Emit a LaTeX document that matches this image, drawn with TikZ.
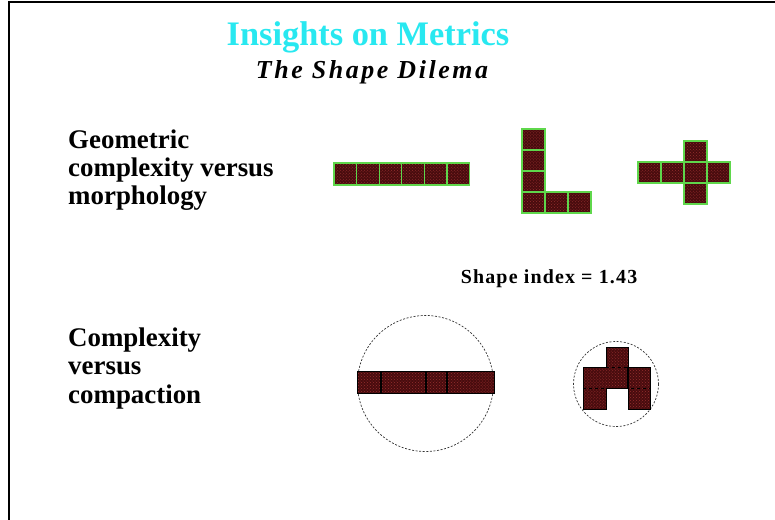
\documentclass[tikz,border=0pt]{standalone}
\usepackage{fontspec}
\setmainfont{Liberation Serif}
\usepackage{tikz}
\usetikzlibrary{patterns}
\definecolor{titlecyan}{RGB}{40,232,240}
\definecolor{cellred}{RGB}{72,12,14}
\definecolor{celldot}{RGB}{150,45,45}
\definecolor{cellgreen}{RGB}{95,215,75}
\tikzset{
  heading/.style  = {font=\fontsize{27}{28.5}\selectfont\bfseries, align=left, inner sep=0pt, anchor=base west},
  cell/.style     = {preaction={fill=cellred}, pattern=crosshatch dots, pattern color=celldot, draw=cellgreen, line width=1.3pt},
  darkcell/.style = {preaction={fill=cellred}, pattern=crosshatch dots, pattern color=celldot, draw=black, line width=0.8pt},
  ring/.style     = {draw=black!80, line width=0.7pt, dash pattern=on 2pt off 1.6pt},
}

\begin{document}
\begin{tikzpicture}[x=1bp, y=-1bp]
  \useasboundingbox (0,0) rectangle (775,520);
  % frame
  \draw[line width=1.6pt] (9,520) |- (775,2);
  % titles
  \node[font=\fontsize{34.5}{36}\selectfont\bfseries, text=titlecyan, inner sep=0pt, anchor=base] (title) at (368,46) {Insights on Metrics};
  \node[font=\fontsize{26}{28}\selectfont\bfseries\itshape\addfontfeature{LetterSpace=10}, inner sep=0pt, anchor=base] (subtitle) at (372,79) {The Shape Dilema};
  % left labels (base is the last line)
  \node[heading] (geom) at (68,205) {Geometric\\complexity versus\\morphology};
  \node[heading] (compact) at (68,403) {Complexity\\versus\\compaction};
  \node[font=\fontsize{20}{22}\selectfont\bfseries\addfontfeature{LetterSpace=6}, inner sep=0pt, anchor=base] (shapeidx) at (549,284) {Shape index = 1.43};
  % straight bar
  \foreach \i in {0,...,5}
    \draw[cell] (334+22.6*\i,163) rectangle ++(22.6,22);
  % L shape
  \foreach \j in {0,...,3}
    \draw[cell] (522,129+21*\j) rectangle ++(23,21);
  \foreach \i in {1,2}
    \draw[cell] (522+23*\i,192) rectangle ++(23,21);
  % plus shape
  \foreach \i in {0,...,3}
    \draw[cell] (638+23*\i,162) rectangle ++(23,21);
  \foreach \j in {0,2}
    \draw[cell] (684,141+21*\j) rectangle ++(23,21);
  % compaction: long bar in its circle
  \draw[ring] (425.5,383.5) circle[radius=68];
  \draw[darkcell] (357,371) rectangle (494,393);
  \foreach \x in {381,426,447}
    \draw[line width=2pt] (\x,371) -- (\x,393);
  % compaction: arch in its circle
  \draw[ring] (616,384) circle[radius=42.5];
  \draw[darkcell] (583,367) -- (606,367) -- (606,347) -- (628,347) -- (628,367) -- (650,367)
    -- (650,409) -- (628,409) -- (628,388) -- (606,388) -- (606,409) -- (583,409) -- cycle;
  \draw[dashed, line width=0.8pt] (606,367) -- (628,367);
  \draw[dashed, line width=0.8pt] (583,388) -- (650,388);
  \draw[line width=1.2pt] (628,367) -- (628,388);
\end{tikzpicture}
\end{document}
